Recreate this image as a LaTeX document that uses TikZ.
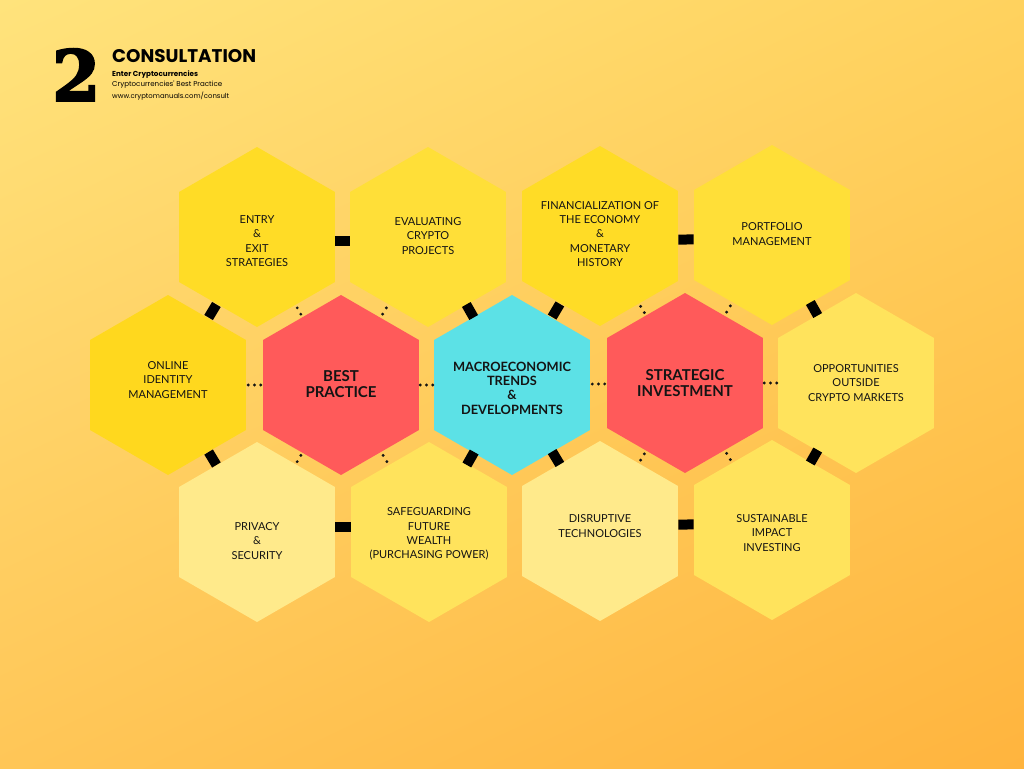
\documentclass[tikz,border=0pt]{standalone}
\usepackage{fontspec}
\setmainfont{Lato}
\newfontfamily\headfont{Poppins}
\newfontfamily\digitfont{DejaVu Serif}[FakeBold=3]
\usetikzlibrary{shapes.geometric,calc,shadings}

\definecolor{bgTL}{HTML}{FFE37C}
\definecolor{bgTR}{HTML}{FFD25E}
\definecolor{bgBL}{HTML}{FFC657}
\definecolor{bgBR}{HTML}{FFB43E}
\definecolor{goldA}{HTML}{FFDC26}
\definecolor{goldB}{HTML}{FFD81E}
\definecolor{sunA}{HTML}{FFDF38}
\definecolor{lemon}{HTML}{FFE35C}
\definecolor{pale}{HTML}{FFEA8B}
\definecolor{coral}{HTML}{FF5A5A}
\definecolor{aqua}{HTML}{5CE1E6}
\definecolor{ink}{HTML}{141414}

% short black bar across the gap between two cells (optional vertical offset)
\newcommand\barlink[3][0]{\draw[barlink] ($(#2)!0.456!(#3) + (0,#1)$) -- ($(#2)!0.544!(#3) + (0,#1)$);}
% two dots across the gap, along the line between two cells
\newcommand\pairlink[2]{%
  \path ($(#1)!0.5!(#2)$) coordinate (mid);
  \fill[ink] ($(mid)!3.6pt!(#1)$) circle (1.6pt) ($(mid)!3.6pt!(#2)$) circle (1.6pt);}
% three dots across the gap
\newcommand\triolink[2]{%
  \path ($(#1)!0.5!(#2)$) coordinate (mid);
  \fill[ink] ($(mid)!6.2pt!(#1)$) circle (1.6pt) (mid) circle (1.6pt) ($(mid)!6.2pt!(#2)$) circle (1.6pt);}

\begin{document}
\begin{tikzpicture}[x=1pt,y=-1pt,
  hexa/.style={regular polygon, regular polygon sides=6, shape border rotate=30,
    minimum size=180pt, inner sep=0pt, draw=none},
  lbl/.style={align=center, text=ink, font=\fontsize{11}{14.3}\selectfont},
  hub/.style={align=center, text=ink, font=\fontsize{15}{16}\selectfont\bfseries},
  barlink/.style={draw=black, line width=10pt, line cap=butt}]

\useasboundingbox (0,0) rectangle (1024,768);
\shade[upper left=bgTL, upper right=bgTR, lower left=bgBL, lower right=bgBR]
  (0,0) rectangle (1024,768);

% header
\node[inner sep=0pt, anchor=south west] (num) at (52,101)
  {\resizebox{48pt}{52pt}{\digitfont\bfseries 2}};
\node[inner sep=0pt, anchor=base west] (title) at (112,63)
  {\resizebox{144pt}{!}{\headfont\bfseries CONSULTATION}};
\node[inner sep=0pt, anchor=base west] (sub1) at (112,76)
  {\resizebox{86pt}{!}{\headfont\bfseries Enter Cryptocurrencies}};
\node[inner sep=0pt, anchor=base west] (sub2) at (112,87)
  {\resizebox{110pt}{!}{\headfont Cryptocurrencies' Best Practice}};
\node[inner sep=0pt, anchor=base west] (sub3) at (112,98)
  {\resizebox{117pt}{!}{\headfont www.cryptomanuals.com/consult}};

% honeycomb cells
\node[hexa, fill=goldA] (entry) at (257,237) {};
\node[hexa, fill=sunA]  (eval)  at (428,237) {};
\node[hexa, fill=goldA] (fin)   at (600,236) {};
\node[hexa, fill=sunA]  (port)  at (772,235) {};

\node[hexa, fill=goldB] (online) at (168,385) {};
\node[hexa, fill=coral] (best)   at (341,385) {};
\node[hexa, fill=aqua]  (macro)  at (512,385) {};
\node[hexa, fill=coral] (strat)  at (685,383) {};
\node[hexa, fill=lemon] (opp)    at (856,383) {};

\node[hexa, fill=pale]  (priv) at (257,532) {};
\node[hexa, fill=lemon] (safe) at (429,532) {};
\node[hexa, fill=pale]  (disr) at (600,531) {};
\node[hexa, fill=lemon] (sust) at (772,530) {};

% cell texts
\node[lbl] (t-entry) at (257,241) {ENTRY\\\&\\EXIT\\STRATEGIES};
\node[lbl] (t-eval)  at (428,236) {EVALUATING\\CRYPTO\\PROJECTS};
\node[lbl] (t-fin)   at (600,234) {FINANCIALIZATION OF\\THE ECONOMY\\\&\\MONETARY\\HISTORY};
\node[lbl] (t-port)  at (772,234) {PORTFOLIO\\MANAGEMENT};
\node[lbl] (t-online) at (168,380) {ONLINE\\IDENTITY\\MANAGEMENT};
\node[hub] (t-best)  at (341,384) {BEST\\PRACTICE};
\node[hub, font=\fontsize{12.8}{14.4}\selectfont\bfseries] (t-macro) at (512,388)
  {MACROECONOMIC\\TRENDS\\\&\\DEVELOPMENTS};
\node[hub] (t-strat) at (685,383) {STRATEGIC\\INVESTMENT};
\node[lbl] (t-opp)   at (856,383) {OPPORTUNITIES\\OUTSIDE\\CRYPTO MARKETS};
\node[lbl] (t-priv)  at (257,541) {PRIVACY\\\&\\SECURITY};
\node[lbl] (t-safe)  at (429,534) {SAFEGUARDING\\FUTURE\\WEALTH\\(PURCHASING POWER)};
\node[lbl] (t-disr)  at (600,526) {DISRUPTIVE\\TECHNOLOGIES};
\node[lbl] (t-sust)  at (772,533) {SUSTAINABLE\\IMPACT\\INVESTING};

% bar links
\barlink[4]{entry}{eval}
\barlink[4]{fin}{port}
\barlink[-5]{priv}{safe}
\barlink[-6]{disr}{sust}
\barlink{entry}{online}
\barlink{eval}{macro}
\barlink{fin}{macro}
\barlink{port}{opp}
\barlink{online}{priv}
\barlink{macro}{safe}
\barlink{macro}{disr}
\barlink{opp}{sust}

% dotted links around the two red cells
\pairlink{entry}{best}
\pairlink{eval}{best}
\pairlink{fin}{strat}
\pairlink{port}{strat}
\pairlink{best}{priv}
\pairlink{best}{safe}
\pairlink{strat}{disr}
\pairlink{strat}{sust}

% dotted links along the middle row
\triolink{online}{best}
\triolink{best}{macro}
\triolink{macro}{strat}
\triolink{strat}{opp}
\end{tikzpicture}
\end{document}
